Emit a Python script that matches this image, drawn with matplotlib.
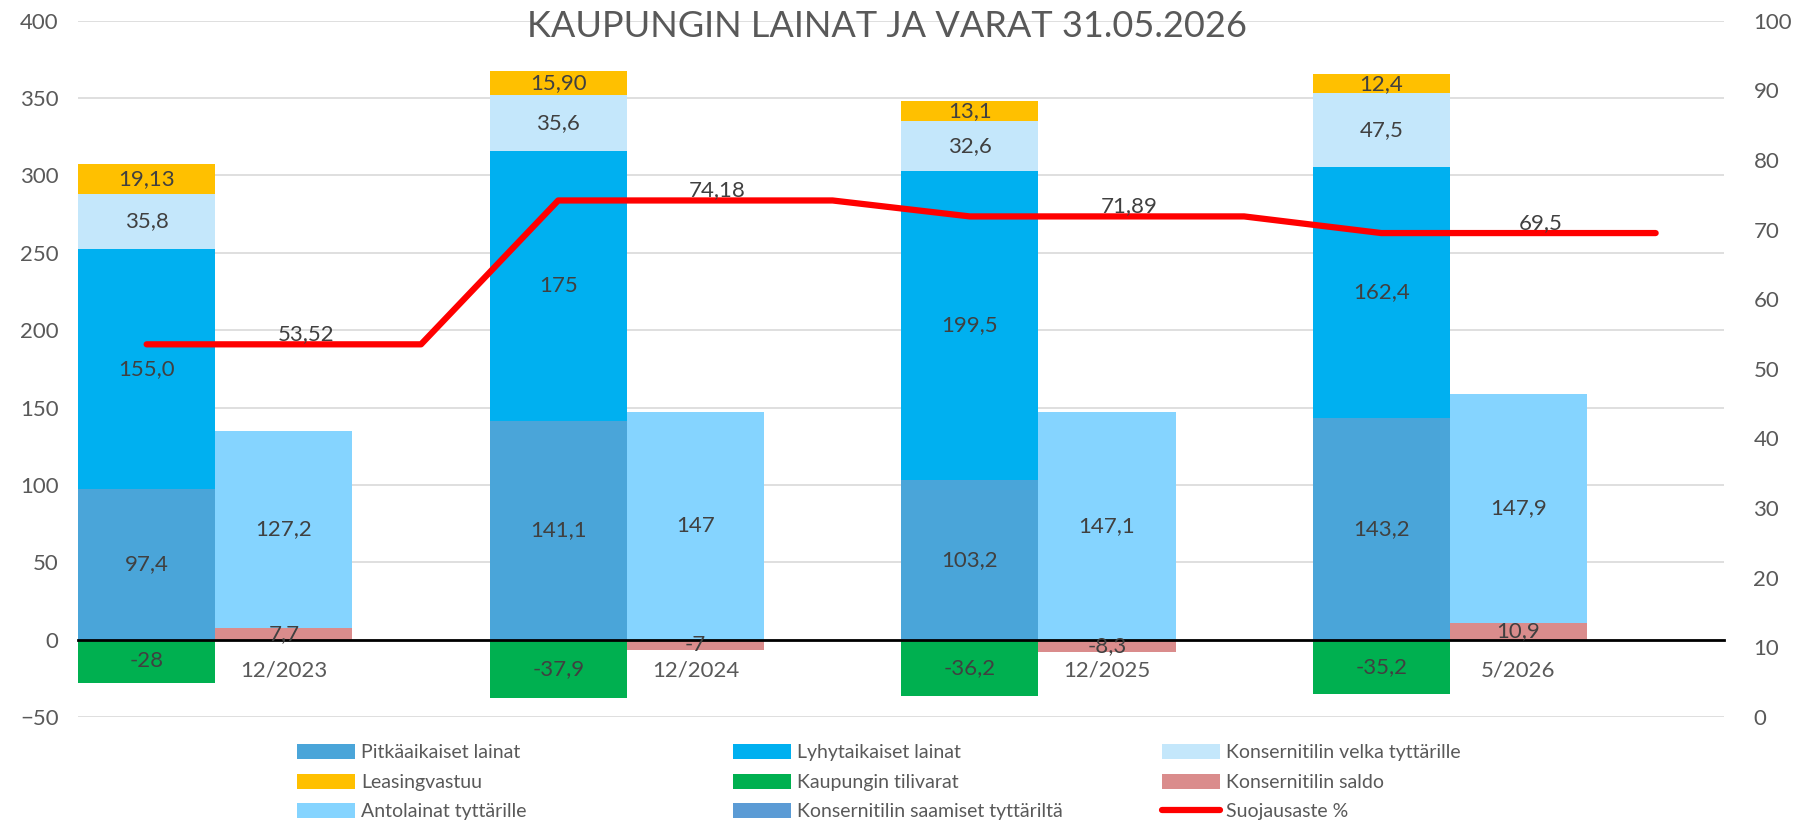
import numpy as np
import matplotlib.pyplot as plt

dates = ['12/2023', '12/2024', '12/2025', '5/2026']

# vasen pylväs: lainat (arvot kuten kuvan datalabeleissa)
pitkaaikaiset = ['97,4', '141,1', '103,2', '143,2']
lyhytaikaiset = ['155,0', '175', '199,5', '162,4']
velka_tyttarille = ['35,8', '35,6', '32,6', '47,5']
leasing = ['19,13', '15,90', '13,1', '12,4']
tilivarat = ['-28', '-37,9', '-36,2', '-35,2']

# oikea pylväs: varat
konsernitili_saldo = ['7,7', '-7', '-8,3', '10,9']
antolainat = ['127,2', '147', '147,1', '147,9']
saamiset = ['0', '0', '0', '0']

suojausaste = ['53,52', '74,18', '71,89', '69,5']

C_PITKA = '#4AA5D9'
C_LYHYT = '#00B0F0'
C_VELKA = '#C4E7FB'
C_LEASING = '#FFC000'
C_TILI = '#00B050'
C_SALDO = '#DA8C8C'
C_ANTO = '#85D4FF'
C_SAAM = '#5B9BD5'
TXT = '#404040'
GREY = '#595959'


def num(s):
    return float(s.replace(',', '.'))


def label(ax, x, bottom, h, text):
    if text == '0':
        return
    ax.text(x, bottom + h / 2, text, ha='center', va='center',
            color=TXT, fontsize=16, zorder=5)


def main():
    plt.rcParams['font.family'] = ['Lato', 'DejaVu Sans']

    fig = plt.figure(figsize=(18.07, 8.27), dpi=100)
    ax = fig.add_axes([0.0432, 0.133, 0.911, 0.842])

    n = len(dates)
    xl = np.arange(n) * 3
    xr = xl + 1

    handles = {}

    # vasen pino
    bottom = np.zeros(n)
    for name, vals, col in [('Pitkäaikaiset lainat', pitkaaikaiset, C_PITKA),
                            ('Lyhytaikaiset lainat', lyhytaikaiset, C_LYHYT),
                            ('Konsernitilin velka tyttärille', velka_tyttarille, C_VELKA),
                            ('Leasingvastuu', leasing, C_LEASING)]:
        v = np.array([num(s) for s in vals])
        handles[name] = ax.bar(xl, v, 1.0, bottom=bottom, color=col, zorder=2)
        for i in range(n):
            label(ax, xl[i], bottom[i], v[i], vals[i])
        bottom = bottom + v

    v = np.array([num(s) for s in tilivarat])
    handles['Kaupungin tilivarat'] = ax.bar(xl, v, 1.0, color=C_TILI, zorder=2)
    for i in range(n):
        label(ax, xl[i], 0, v[i], tilivarat[i])

    # oikea pino
    saldo = np.array([num(s) for s in konsernitili_saldo])
    handles['Konsernitilin saldo'] = ax.bar(xr, saldo, 1.0, color=C_SALDO, zorder=2)
    for i in range(n):
        label(ax, xr[i], 0, saldo[i], konsernitili_saldo[i])

    bottom = np.maximum(saldo, 0)
    v = np.array([num(s) for s in antolainat])
    handles['Antolainat tyttärille'] = ax.bar(xr, v, 1.0, bottom=bottom, color=C_ANTO, zorder=2)
    for i in range(n):
        label(ax, xr[i], bottom[i], v[i], antolainat[i])
    bottom = bottom + v

    v = np.array([num(s) for s in saamiset])
    handles['Konsernitilin saamiset tyttäriltä'] = ax.bar(xr, v, 1.0, bottom=bottom,
                                                         color=C_SAAM, zorder=2)

    ax.set_xlim(-0.5, 3 * n - 0.5)
    ax.set_ylim(-50, 400)
    ax.set_yticks(np.arange(-50, 401, 50))
    ax.grid(axis='y', color='#D9D9D9', lw=1.2)
    ax.set_axisbelow(True)
    for s in ['top', 'left', 'right']:
        ax.spines[s].set_visible(False)
    ax.spines['bottom'].set_position(('data', 0))
    ax.spines['bottom'].set_color('black')
    ax.spines['bottom'].set_linewidth(2)
    ax.spines['bottom'].set_zorder(4)
    ax.set_xticks(xr, dates)
    ax.tick_params(axis='x', length=0, pad=15, labelsize=16, labelcolor=GREY)
    ax.tick_params(axis='y', length=0, pad=14, labelsize=16, labelcolor=GREY)

    # suojausaste oikealla akselilla
    ax2 = ax.twinx()
    suo = np.array([num(s) for s in suojausaste])
    xs = np.arange(3 * n)
    handles['Suojausaste %'], = ax2.plot(xs, np.repeat(suo, 3), color='#FF0000', lw=4.5,
                                         solid_capstyle='round', solid_joinstyle='round')
    for i in range(n):
        ax2.annotate(suojausaste[i], (xr[i], suo[i]), xytext=(16, 0),
                     textcoords='offset points', ha='center', va='bottom',
                     color=TXT, fontsize=16)
    ax2.set_ylim(0, 100)
    ax2.set_yticks(np.arange(0, 101, 10))
    for s in ax2.spines.values():
        s.set_visible(False)
    ax2.tick_params(axis='y', length=0, pad=21, labelsize=16, labelcolor=GREY)

    fig.text(0.491, 0.968, 'KAUPUNGIN LAINAT JA VARAT 31.05.2026', ha='center', va='center',
             fontsize=26, color=GREY)

    # legenda kolmena erillisenä sarakkeena
    columns = [['Pitkäaikaiset lainat', 'Leasingvastuu', 'Antolainat tyttärille'],
               ['Lyhytaikaiset lainat', 'Kaupungin tilivarat',
                'Konsernitilin saamiset tyttäriltä'],
               ['Konsernitilin velka tyttärille', 'Konsernitilin saldo', 'Suojausaste %']]
    for x0, keys in zip([0.1644, 0.4056, 0.643], columns):
        fig.legend([handles[k] for k in keys], keys, loc='center left',
                   bbox_to_anchor=(x0, 0.054), frameon=False, fontsize=14,
                   handlelength=3.0, handleheight=0.8, handletextpad=0.3,
                   borderpad=0, borderaxespad=0, labelspacing=0.63,
                   labelcolor=GREY)

    fig.savefig('out.png', dpi=100)


if __name__ == "__main__":
    main()
